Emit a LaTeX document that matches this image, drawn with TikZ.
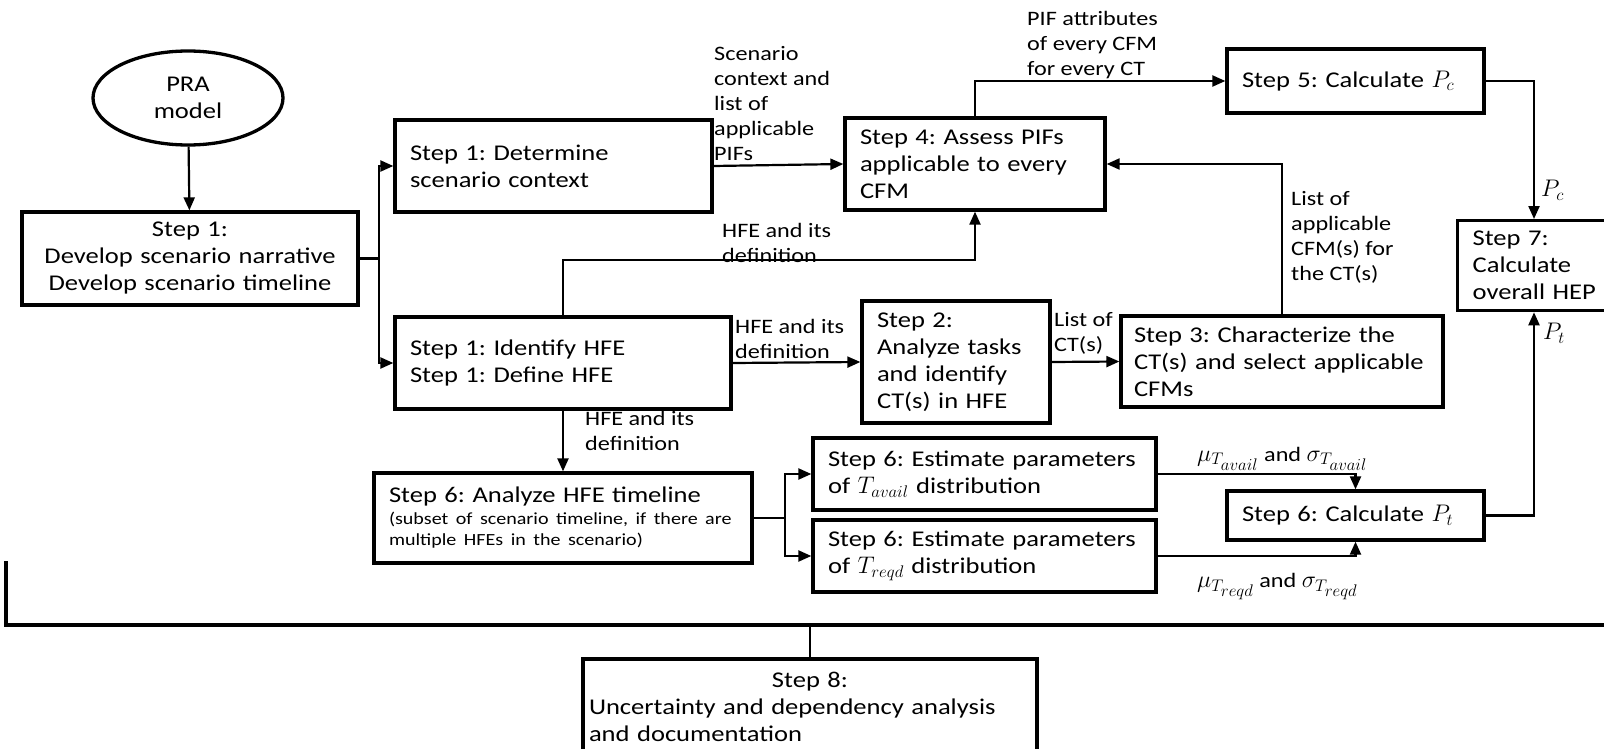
\documentclass[tikz,border=0pt]{standalone}
\usepackage{fix-cm}
\usepackage{fontspec}
\setmainfont{Carlito}[FakeStretch=1.18]
\usetikzlibrary{arrows.meta,shapes.geometric}
\frenchspacing
\newcommand{\boxfont}{\fontsize{22.5}{27}\selectfont}
\newcommand{\lblfont}{\fontsize{20.5}{25}\selectfont}
\newcommand{\subfont}{\fontsize{17}{21.5}\selectfont}
\newcommand{\bigmath}{\fontsize{24}{25}\selectfont}
\tikzset{
  stepbox/.style={draw, line width=3.3pt, inner xsep=15pt, inner ysep=2pt, align=left, font=\boxfont},
  conn/.style={line width=2.2pt},
  arr/.style={conn, -{Triangle[length=13pt,width=11pt]}},
  lbl/.style={font=\lblfont, align=left, inner sep=1pt},
}
\begin{document}
\begin{tikzpicture}[x=1pt,y=-1pt]
    \useasboundingbox (0,0) rectangle (1604,749);

    \node[ellipse, draw, line width=3.3pt, minimum width=190, minimum height=94, align=center, font=\boxfont] (pra) at (188,98) {PRA\\model};
    \node[stepbox, align=center, text width=306, minimum height=93] (narr) at (190,258.5) {Step 1:\\Develop scenario narrative\\Develop scenario timeline};
    \node[stepbox, text width=287, minimum height=92] (determine) at (553.5,166) {Step 1: Determine\\scenario context};
    \node[stepbox, text width=306, minimum height=92] (identify) at (563,363) {Step 1: Identify HFE\\Step 1: Define HFE};
    \node[stepbox, text width=230, minimum height=92] (step4) at (975,164) {Step 4: Assess PIFs\\applicable to every\\CFM};
    \node[stepbox, text width=227, minimum height=64] (step5) at (1355.5,81) {Step 5: Calculate {\bigmath$P_c$}};
    \node[stepbox, anchor=north west, text width=140, minimum height=90] (step7) at (1456,219) {Step 7:\\Calculate\\overall HEP};
    \node[stepbox, text width=158, minimum height=122] (step2) at (956,362) {Step 2:\\Analyze tasks\\and identify\\CT(s) in HFE};
    \node[stepbox, inner xsep=13pt, text width=296, minimum height=91] (step3) at (1282,361.5) {Step 3: Characterize the\\CT(s) and select applicable\\CFMs};
    \node[stepbox, text width=348, minimum height=90] (analyze) at (563,518) {Step 6: Analyze HFE timeline\\\subfont (subset of scenario timeline, if there are\\multiple HFEs in the scenario)\par};
    \node[stepbox, text width=313, minimum height=72] (tavail) at (984.5,474) {Step 6: Estimate parameters\\of {\bigmath$T_{avail}$} distribution};
    \node[stepbox, text width=313, minimum height=72] (treqd) at (984.5,556) {Step 6: Estimate parameters\\of {\bigmath$T_{reqd}$} distribution};
    \node[stepbox, text width=227, minimum height=49] (pt) at (1355.5,515.5) {Step 6: Calculate {\bigmath$P_t$}};
    \node[stepbox, inner xsep=6pt, text width=442, minimum height=96] (step8) at (810,707) {\makebox[\linewidth][c]{Step 8:}\\Uncertainty and dependency analysis\\and documentation};

    \node[lbl, anchor=south west] (lscen) at (713,162) {Scenario\\context and\\list of\\applicable\\PIFs};
    \node[lbl, anchor=south west] (lhfe1) at (721,264) {HFE and its\\definition};
    \node[lbl, anchor=south west] (lpif) at (1026,80) {PIF attributes\\of every CFM\\for every CT};
    \node[lbl, anchor=north west] (lcfm) at (1290,190) {List of\\applicable\\CFM(s) for\\the CT(s)};
    \node[lbl, anchor=south west] (lhfe2) at (734,360) {HFE and its\\definition};
    \node[lbl, anchor=south west] (lct) at (1053,356) {List of\\CT(s)};
    \node[lbl, anchor=north west] (lhfe3) at (584,410) {HFE and its\\definition};
    \node[lbl, anchor=west] (lpc) at (1540,190) {\bigmath$P_c$};
    \node[lbl, anchor=west] (lpt) at (1542,333) {\bigmath$P_t$};
    \node[lbl, anchor=south west] (lav) at (1196,472) {{\bigmath$\mu_{T_{\scriptstyle avail}}$} and {\bigmath$\sigma_{T_{\scriptstyle avail}}$}};
    \node[lbl, anchor=north west] (lrq) at (1196,572) {{\bigmath$\mu_{T_{\scriptstyle reqd}}$} and {\bigmath$\sigma_{T_{\scriptstyle reqd}}$}};

    \draw[arr] (pra) -- (narr);
    \draw[conn] (narr.east) -- ++(19,0) coordinate (j1);
    \draw[arr] (j1) |- (determine.west);
    \draw[arr] (j1) |- (identify.west);
    \draw[arr] (determine.east) -- (step4.west);
    \draw[arr] (identify.north) -- ++(0,-55) -| (step4.south);
    \draw[arr] (step4.north) |- (step5.west);
    \draw[arr] (step5.east) -| ([xshift=78]step7.north west);
    \draw[arr] (step3.north) |- (step4.east);
    \draw[arr] (identify.east) -- (step2.west);
    \draw[arr] (step2.east) -- (step3.west);
    \draw[arr] (identify.south) -- (analyze.north);
    \draw[conn] (analyze.east) -- ++(31,0) coordinate (j2);
    \draw[arr] (j2) |- (tavail.west);
    \draw[arr] (j2) |- (treqd.west);
    \draw[arr] (tavail.east) -| (pt.north);
    \draw[arr] (treqd.east) -| (pt.south);
    \draw[arr] (pt.east) -| ([xshift=78]step7.south west);

    \coordinate (brl) at (6,561);
    \coordinate (brr) at (1610,625);
    \coordinate (brm) at (810,625);
    \draw[conn, line width=3.5pt] (brl) |- (brr);
    \draw[conn] (brm) -- (step8.north);
\end{tikzpicture}
\end{document}
